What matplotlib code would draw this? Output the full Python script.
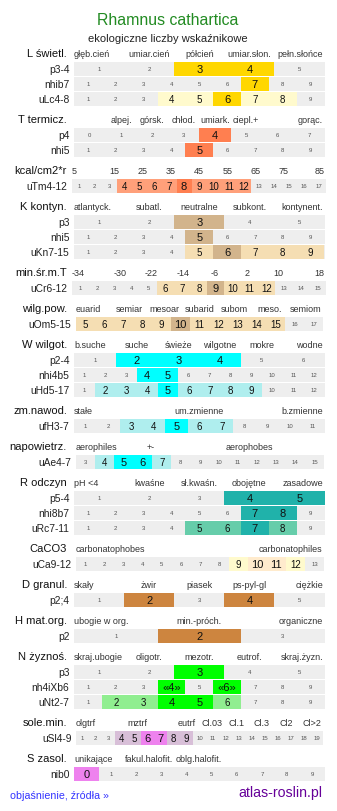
#!/usr/bin/env python3
"""Ecological indicator values chart for Rhamnus cathartica."""

import matplotlib

matplotlib.use("Agg")
import matplotlib.pyplot as plt

plt.rcParams["font.family"] = ["Liberation Sans", "DejaVu Sans"]

TITLE = "Rhamnus cathartica"
SUBTITLE = "ekologiczne liczby wskaźnikowe"

HEADERS = ["L świetl.", "T termicz.", "kcal/cm2*r", "K kontyn.", "min.śr.m.T",
           "wilg.pow.", "W wilgot.", "zm.nawod.", "napowietrz.", "R odczyn",
           "CaCO3", "D granul.", "H mat.org.", "N żyznoś.", "sole.min.", "S zasol."]

CATEGORIES = [
    ["głęb.cień", "umiar.cień", "półcień", "umiar.słon.", "pełn.słońce"],
    ["", "alpej.", "górsk.", "chłod.", "umiark.", "ciepl.+", "", "gorąc."],
    ["5", "15", "25", "35", "45", "55", "65", "75", "85"],
    ["atlantyck.", "subatl.", "neutralne", "subkont.", "kontynent."],
    ["-34", "-30", "-22", "-14", "-6", "2", "10", "18"],
    ["euarid", "semiar", "mesoar", "subarid", "subom", "meso.", "semiom"],
    ["b.suche", "suche", "świeże", "wilgotne", "mokre", "wodne"],
    ["stałe", "um.zmienne", "b.zmienne"],
    ["aerophiles", "+-", "", "aerophobes", ""],
    ["pH <4", "kwaśne", "sł.kwaśn.", "obojętne", "zasadowe"],
    ["carbonatophobes", "carbonatophiles"],
    ["skały", "żwir", "piasek", "ps-pyl-gl", "ciężkie"],
    ["ubogie w org.", "min.-próch.", "organiczne"],
    ["skraj.ubogie", "oligotr.", "mezotr.", "eutrof.", "skraj.żyzn."],
    ["olgtrf", "", "mztrf", "", "eutrf", "Cl.03", "Cl.1", "Cl.3", "Cl2", "Cl>2"],
    ["unikające", "fakul.halofit.", "oblg.halofit.", "", ""],
]

NH4 = ["1", "2", "3", "«4»", "5", "«6»", "7", "8", "9"]

# rows: (label, cell labels, shade per cell: 0 none, 1 light, 2 strong)
ROWS = [
    [("p3-4", range(1, 6), "00220"),
     ("nhib7", range(1, 10), "000000200"),
     ("uLc4-8", range(1, 10), "000112110")],
    [("p4", range(0, 8), "00002000"),
     ("nhi5", range(1, 10), "000020000")],
    [("uTm4-12", range(1, 18), "00011112111100000")],
    [("p3", range(1, 6), "00200"),
     ("nhi5", range(1, 10), "000020000"),
     ("uKn7-15", range(1, 10), "000012111")],
    [("uCr6-12", range(1, 16), "000001112111000")],
    [("uOm5-15", range(5, 18), "1111121111100")],
    [("p2-4", range(1, 7), "022200"),
     ("nhi4b5", range(1, 13), "000220000000"),
     ("uHd5-17", range(1, 13), "011121111000")],
    [("ufH3-7", range(1, 12), "00112110000")],
    [("uAe4-7", range(3, 16), "0122100000000")],
    [("p5-4", range(1, 6), "00022"),
     ("nhi8b7", range(1, 10), "000000220"),
     ("uRc7-11", range(1, 10), "000011210")],
    [("uCa9-12", range(1, 14), "0000000012210")],
    [("p2;4", range(1, 6), "02020")],
    [("p2", range(1, 4), "020")],
    [("p3", range(1, 6), "00200"),
     ("nh4iXb6", NH4, "000202000"),
     ("uNt2-7", range(1, 10), "011221000")],
    [("uSl4-9", range(1, 20), "0001122110000000000")],
    [("nib0", range(0, 10), "2000000000")],
]

# (light, strong) colour per section
PALETTES = [
    ("#fffacd", "#ffd700"), ("#ffa07a", "#ff7f50"), ("#ffa07a", "#ff7f50"),
    ("#f5deb3", "#d2b48c"), ("#f5deb3", "#d2b48c"), ("#f5deb3", "#d2b48c"),
    ("#afeeee", "#00ffff"), ("#afeeee", "#00ffff"), ("#afeeee", "#00ffff"),
    ("#66cdaa", "#20b2aa"), ("#fffacd", "#ffebcd"), ("#cd853f", "#cd853f"),
    ("#cd853f", "#cd853f"), ("#90ee90", "#00ff00"), ("#d8bfd8", "#ee82ee"),
    ("#ee82ee", "#ee82ee"),
]

GRAY = "#eeeeee"
DEFAULT_SPAN = (74, 324.5)
SPANS = {"uTm4-12": (72, 326), "uCr6-12": (72, 326), "uOm5-15": (76, 323),
         "uAe4-7": (76, 324), "uCa9-12": (76, 324), "uSl4-9": (76, 323)}
DY = 0.9  # nudge text down so glyphs sit visually centred


def main():
    fig = plt.figure(figsize=(3.37, 8.11), dpi=100)
    ax = fig.add_axes([0, 0, 1, 1])
    ax.set_xlim(0, 337)
    ax.set_ylim(811, 0)
    ax.axis("off")

    ax.text(167.5, 20 + DY, TITLE, ha="center", va="center", fontsize=11.4,
            color="#228b22")
    ax.text(167.5, 38 + DY, SUBTITLE, ha="center", va="center", fontsize=8,
            color="#222222")

    y = 53.3
    for head, cats, rows, pal in zip(HEADERS, CATEGORIES, ROWS, PALETTES):
        x0, x1 = SPANS.get(rows[0][0], DEFAULT_SPAN)
        ax.text(67, y + DY, head, ha="right", va="center", fontsize=8,
                color="#111111")
        step = (x1 - x0) / len(cats)
        for i, cat in enumerate(cats):
            if i == 0:
                x, ha = x0, "left"
            elif i == len(cats) - 1:
                x, ha = x1 - 1.5, "right"
            else:
                x, ha = x0 + (i + 0.5) * step, "center"
            ax.text(x, y + DY, cat, ha=ha, va="center", fontsize=6.5,
                    color="#333333")
        y += 16

        for label, cells, shades in rows:
            cells = [str(c) for c in cells]
            x0, x1 = SPANS.get(label, DEFAULT_SPAN)
            w = (x1 - x0) / len(cells)
            ax.barh(y, x1 - x0, left=x0, height=14, color=GRAY, linewidth=0)
            lefts = [x0 + i * w for i in range(len(cells))]
            colors = [pal[int(s) - 1] if s != "0" else GRAY for s in shades]
            ax.barh([y] * len(cells), [w] * len(cells), left=lefts, height=14,
                    color=colors, linewidth=0)
            ax.text(x0 - 4.5, y + DY, label, ha="right", va="center",
                    fontsize=7.4, color="#222222")
            for left, txt, s in zip(lefts, cells, shades):
                if s == "0":
                    ax.text(left + w / 2, y + 0.5, txt, ha="center", va="center",
                            fontsize=4.3, color="#555555")
                else:
                    ax.text(left + w / 2, y + DY, txt, ha="center", va="center",
                            fontsize=8 if s == "2" else 7, color="#111111")
            y += 15
        y += 5

    ax.text(10, 795 + DY, "objaśnienie, źródła »", ha="left", va="center",
            fontsize=7.7, color="#3333ff")
    ax.text(322, 792 + DY, "atlas-roslin.pl", ha="right", va="center",
            fontsize=10.2, color="#660099")

    fig.savefig("out.png", dpi=100)


if __name__ == "__main__":
    main()
